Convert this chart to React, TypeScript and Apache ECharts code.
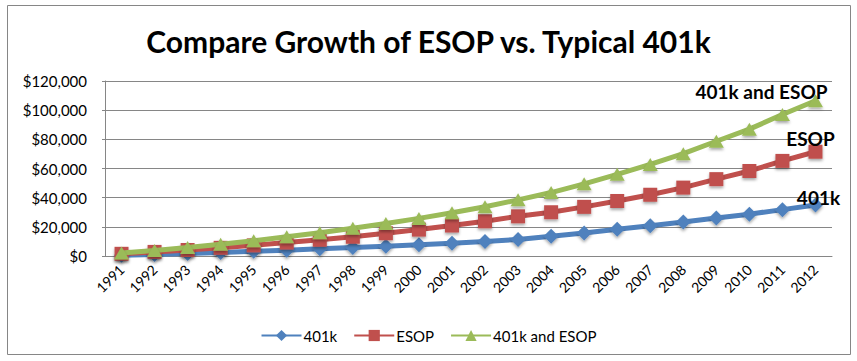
import React, { useEffect, useRef } from "react";
import * as echarts from "echarts";

const years = ["1991","1992","1993","1994","1995","1996","1997","1998","1999","2000","2001","2002","2003","2004","2005","2006","2007","2008","2009","2010","2011","2012"];
const k401 = [500,1000,1700,2400,3200,4000,4900,5800,6700,7700,8800,10000,11300,13500,15800,18300,20800,23300,26000,28700,31800,35000];
const esop = [1500,2800,4100,5600,7300,9200,11100,13200,15600,18100,20900,23800,27200,30000,33700,37700,42000,46900,52700,58300,65200,71500];
const combined = [2000,3800,5800,8000,10500,13200,16000,19000,22300,25800,29700,33800,38500,43500,49500,56000,62800,70200,78700,87000,97000,106500];
const yTicks = { min: 0, max: 120000, interval: 20000 };

const FONT = "Lato";

function fmt(v: number) {
  return "$" + String(v).replace(/\B(?=(\d{3})+(?!\d))/g, ",");
}

function withEndLabel(values: number[], text: string, offset: number[]) {
  return values.map((v, i) =>
    i === values.length - 1
      ? {
          value: v,
          label: {
            show: true,
            position: "top",
            offset,
            formatter: text,
            fontFamily: FONT,
            fontWeight: "bold",
            fontSize: 19,
            color: "#000",
          },
        }
      : v
  );
}

export default function App() {
  const ref = useRef<HTMLDivElement>(null);
  useEffect(() => {
    if (!ref.current) return;
    const chart = echarts.init(ref.current, null, { renderer: "svg" });
    const shadow = {
      shadowColor: "rgba(0,0,0,0.35)",
      shadowBlur: 3,
      shadowOffsetY: 2,
    };
    chart.setOption({
      animation: false,
      backgroundColor: "#fff",
      title: {
        text: "Compare Growth of ESOP vs. Typical 401k",
        left: "center",
        top: 21,
        textStyle: { fontFamily: FONT, fontWeight: "bold", fontSize: 30, color: "#000" },
      },
      graphic: [
        {
          type: "rect",
          shape: { x: 7.5, y: 5.5, width: 843, height: 349 },
          style: { fill: "none", stroke: "#868686", lineWidth: 1 },
          silent: true,
        },
      ],
      legend: {
        bottom: 13,
        left: "center",
        itemWidth: 40,
        itemHeight: 14,
        itemGap: 16,
        textStyle: { fontFamily: FONT, fontSize: 15, color: "#000", padding: [0, 0, 0, -3] },
        data: ["401k", "ESOP", "401k and ESOP"],
      },
      grid: { left: 105, right: 25, top: 81, bottom: 105 },
      xAxis: {
        type: "category",
        data: years,
        boundaryGap: true,
        axisLine: { lineStyle: { color: "#868686" } },
        axisTick: { show: false },
        axisLabel: {
          rotate: 45,
          interval: 0,
          margin: 11,
          fontFamily: FONT,
          fontSize: 14,
          color: "#000",
        },
      },
      yAxis: {
        type: "value",
        min: yTicks.min,
        max: yTicks.max,
        interval: yTicks.interval,
        axisLine: { show: true, lineStyle: { color: "#868686" } },
        axisTick: { show: true, length: 3, lineStyle: { color: "#868686" } },
        splitLine: { lineStyle: { color: "#868686" } },
        axisLabel: {
          formatter: fmt,
          margin: 18,
          fontFamily: FONT,
          fontSize: 15,
          color: "#000",
        },
      },
      series: [
        {
          name: "401k",
          type: "line",
          data: withEndLabel(k401, "401k", [3, 15]),
          symbol: "diamond",
          symbolSize: 15,
          lineStyle: { color: "#4F81BD", width: 5 },
          itemStyle: { color: "#4F81BD", ...shadow },
          z: 2,
        },
        {
          name: "ESOP",
          type: "line",
          data: withEndLabel(esop, "ESOP", [-5, 8]),
          symbol: "rect",
          symbolSize: 14,
          lineStyle: { color: "#C0504D", width: 5 },
          itemStyle: { color: "#C0504D", ...shadow },
          z: 3,
        },
        {
          name: "401k and ESOP",
          type: "line",
          data: withEndLabel(combined, "401k and ESOP", [-54, 12]),
          symbol: "triangle",
          symbolSize: [15, 13],
          lineStyle: { color: "#9BBB59", width: 5 },
          itemStyle: { color: "#9BBB59", ...shadow },
          z: 4,
        },
      ],
    });
    return () => chart.dispose();
  }, []);
  return (
    <div
      ref={ref}
      style={{ position: "fixed", left: 0, top: 0, width: 857, height: 361 }}
    />
  );
}
